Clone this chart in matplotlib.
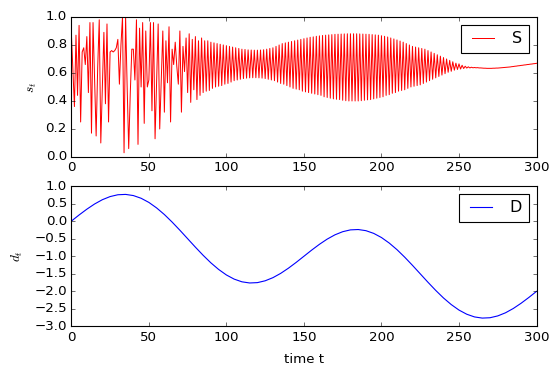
import matplotlib
matplotlib.use('Agg')
import numpy as np
import matplotlib.pyplot as plt

# supply s_t, one value per time step t = 0..300
s_vals = [
    0.89, 0.62, 0.36, 0.87, 0.44, 0.94, 0.25, 0.75, 0.78, 0.66,
    0.86, 0.46, 0.96, 0.17, 0.96, 0.55, 0.15, 0.64, 0.98, 0.10,
    0.50, 0.89, 0.38, 0.95, 0.25, 0.75, 0.76, 0.75, 0.76, 0.78,
    0.84, 0.52, 0.80, 1.00, 0.03, 1.00, 0.50, 0.06, 0.45, 0.77,
    0.77, 0.55, 0.98, 0.09, 0.92, 0.50, 0.96, 0.24, 0.90, 0.50,
    0.55, 0.96, 0.33, 0.96, 0.13, 0.55, 0.95, 0.20, 0.55, 0.90,
    0.32, 0.83, 0.53, 0.93, 0.25, 0.77, 0.66, 0.82, 0.65, 0.52,
    0.90, 0.32, 0.79, 0.61, 0.85, 0.46, 0.88, 0.39, 0.84, 0.48,
    0.86, 0.41, 0.83, 0.44, 0.85, 0.46, 0.83, 0.47, 0.83, 0.475,
    0.82, 0.49, 0.815, 0.50, 0.81, 0.505, 0.805, 0.51, 0.80, 0.52,
    0.795, 0.525, 0.79, 0.535, 0.785, 0.545, 0.78, 0.55, 0.775, 0.555,
    0.77, 0.56, 0.768, 0.563, 0.765, 0.565, 0.764, 0.566, 0.763, 0.566,
    0.763, 0.565, 0.764, 0.563, 0.766, 0.56, 0.77, 0.555, 0.775, 0.55,
    0.78, 0.545, 0.79, 0.535, 0.80, 0.525, 0.81, 0.52, 0.815, 0.51,
    0.82, 0.50, 0.825, 0.49, 0.83, 0.485, 0.835, 0.48, 0.84, 0.47,
    0.845, 0.465, 0.85, 0.46, 0.855, 0.455, 0.858, 0.45, 0.862, 0.445,
    0.865, 0.44, 0.868, 0.43, 0.87, 0.425, 0.872, 0.42, 0.874, 0.415,
    0.876, 0.412, 0.877, 0.41, 0.878, 0.405, 0.879, 0.402, 0.88, 0.40,
    0.88, 0.40, 0.88, 0.40, 0.88, 0.40, 0.879, 0.402, 0.878, 0.405,
    0.877, 0.408, 0.876, 0.41, 0.874, 0.415, 0.872, 0.42, 0.87, 0.425,
    0.866, 0.43, 0.862, 0.44, 0.857, 0.445, 0.85, 0.455, 0.843, 0.46,
    0.836, 0.47, 0.828, 0.475, 0.82, 0.48, 0.81, 0.49, 0.80, 0.50,
    0.79, 0.505, 0.785, 0.51, 0.78, 0.515, 0.775, 0.525, 0.77, 0.535,
    0.76, 0.545, 0.75, 0.555, 0.74, 0.565, 0.73, 0.575, 0.72, 0.585,
    0.71, 0.595, 0.70, 0.605, 0.69, 0.612, 0.68, 0.62, 0.67, 0.625,
    0.665, 0.628, 0.655, 0.632, 0.648, 0.635, 0.644, 0.636, 0.641, 0.637,
    0.639, 0.637, 0.638, 0.636, 0.636, 0.635, 0.634, 0.634, 0.633, 0.633,
    0.633, 0.633, 0.634, 0.634, 0.635, 0.635, 0.636, 0.637, 0.638, 0.639,
    0.64, 0.641, 0.642, 0.643, 0.645, 0.646, 0.648, 0.649, 0.651, 0.652,
    0.654, 0.655, 0.657, 0.658, 0.66, 0.661, 0.663, 0.664, 0.666, 0.667,
    0.669,
]

# demand d_t, read every 5 time steps
d_times = list(range(0, 301, 5))
d_vals = [
    0.000, 0.175, 0.340, 0.488, 0.610, 0.699, 0.751, 0.761, 0.728, 0.651,
    0.533, 0.376, 0.188, -0.027, -0.259, -0.500, -0.741, -0.973, -1.188, -1.376,
    -1.533, -1.651, -1.728, -1.761, -1.751, -1.699, -1.610, -1.488, -1.340, -1.175,
    -1.000, -0.825, -0.660, -0.512, -0.390, -0.301, -0.249, -0.239, -0.272, -0.349,
    -0.467, -0.624, -0.812, -1.027, -1.259, -1.500, -1.741, -1.973, -2.188, -2.376,
    -2.533, -2.651, -2.728, -2.761, -2.751, -2.699, -2.610, -2.488, -2.340, -2.175,
    -2.000,
]

plt.style.use('classic')

s_times = np.arange(len(s_vals))

fig = plt.figure(figsize=(559 / 80.0, 377 / 80.0), dpi=80)

ax1 = fig.add_axes([0.1276, 0.5836, 0.8322, 0.3714])
ax1.plot(s_times, s_vals, 'r-', linewidth=0.9, label='S')
ax1.set_xlim(0, 300)
ax1.set_ylim(0.0, 1.0)
ax1.set_ylabel('$s_t$', labelpad=6)
ax1.legend(loc='upper right')

ax2 = fig.add_axes([0.1276, 0.1340, 0.8322, 0.3726])
ax2.plot(d_times, d_vals, 'b-', label='D')
ax2.set_xlim(0, 300)
ax2.set_ylim(-3.0, 1.0)
ax2.set_ylabel('$d_t$', labelpad=8)
ax2.set_xlabel('time t', labelpad=8)
ax2.legend(loc='upper right')

fig.savefig('out.png', dpi=80)
